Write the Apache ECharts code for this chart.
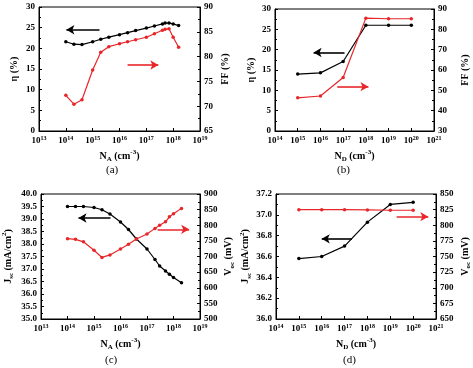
<!DOCTYPE html>
<html>
<head>
<meta charset="utf-8">
<script src="https://cdn.jsdelivr.net/npm/echarts@6/dist/echarts.min.js"></script>
<style>html,body{margin:0;padding:0;background:#fff}#main{width:473px;height:368px}</style>
</head>
<body>
<div id="main"></div>
<script>
// (a) acceptor doping
var naX  = [1e14,2e14,4e14,1e15,2e15,4e15,1e16,2e16,4e16,1e17,2e17,4e17,5e17,7e17,1e18,1.6e18];
var etaA = [21.6,21.0,20.9,21.6,22.2,22.7,23.3,23.8,24.3,24.9,25.4,25.9,26.1,26.1,25.9,25.5];
var ffA  = [72.2,70.4,71.3,77.3,80.9,82.0,82.6,83.0,83.4,83.9,84.6,85.3,85.5,85.6,83.9,81.9];
// (b) donor doping
var ndX  = [1e15,1e16,1e17,1e18,1e19,1e20];
var etaB = [14.0,14.3,17.1,26.0,26.0,26.0];
var ffB  = [46.3,47.2,56.3,85.5,85.2,85.2];
// (c) acceptor doping
var ncX  = [1e14,2e14,4e14,1e15,2e15,4e15,1e16,2e16,4e16,1e17,2e17,3e17,5e17,7e17,1e18,2e18];
var jscC = [39.5,39.5,39.5,39.46,39.37,39.2,38.88,38.58,38.2,37.8,37.38,37.12,36.92,36.79,36.66,36.45];
var vocC = [757,755,747,720,697,705,724,739,756,772,790,800,811,827,837,854];
// (d) donor doping
var jscD = [36.58,36.60,36.70,36.93,37.10,37.12];
var vocD = [825,825,825,824.5,824,824];

var FONT = 'Liberation Serif';
var RED = '#e8262a';

function pairs(xs, ys) {
  return xs.map(function (x, i) { return [x, ys[i]]; });
}

var nameRich = {
  s: {fontFamily: FONT, fontSize: 7, fontWeight: 'bold', verticalAlign: 'bottom'},
  p: {fontFamily: FONT, fontSize: 7, fontWeight: 'bold', verticalAlign: 'top'}
};

function xAxisFor(i, min, max, name) {
  return {
    type: 'log', logBase: 10, gridIndex: i, min: min, max: max, interval: 1,
    name: name, nameLocation: 'middle', nameGap: 18,
    nameTextStyle: {fontFamily: FONT, fontSize: 10, fontWeight: 'bold', color: '#000', lineHeight: 14, rich: nameRich},
    axisLine: {lineStyle: {color: '#000', width: 1}},
    axisTick: {inside: true, length: 3, lineStyle: {color: '#000'}},
    splitLine: {show: false},
    axisLabel: {
      fontFamily: FONT, fontSize: 9, fontWeight: 'bold', color: '#000', margin: 4, lineHeight: 12,
      formatter: function (v) { return '10{p|' + Math.round(Math.log10(v)) + '}'; },
      rich: {p: {fontFamily: FONT, fontSize: 6, fontWeight: 'bold', verticalAlign: 'top'}}
    }
  };
}

function yAxisFor(i, pos, min, max, step, name, gap, digits) {
  return {
    type: 'value', gridIndex: i, position: pos, min: min, max: max, interval: step,
    name: name, nameLocation: 'middle', nameGap: gap, nameRotate: 90,
    nameTextStyle: {fontFamily: FONT, fontSize: 10, fontWeight: 'bold', color: '#000', lineHeight: 14, rich: nameRich},
    axisLine: {show: true, lineStyle: {color: '#000', width: 1}},
    axisTick: {inside: true, length: 3, lineStyle: {color: '#000'}},
    minorTick: {show: true, splitNumber: 2, length: 2, lineStyle: {color: '#000'}},
    splitLine: {show: false},
    axisLabel: {
      fontFamily: FONT, fontSize: 9, fontWeight: 'bold', color: '#000', margin: 4,
      formatter: function (v) { return v.toFixed(digits); }
    }
  };
}

function arrow(color, from, to) {
  return {
    silent: true, symbol: ['none', 'arrow'], symbolSize: [7, 8],
    lineStyle: {color: color, width: 1.6, type: 'solid'},
    label: {show: false}, emphasis: {disabled: true},
    data: [[{coord: from}, {coord: to}]]
  };
}

function line(name, i, yIdx, data, color, mark) {
  return {
    name: name, type: 'line', xAxisIndex: i, yAxisIndex: yIdx, data: data,
    symbol: 'circle', symbolSize: 3.5, showSymbol: true,
    lineStyle: {color: color, width: 1.2},
    itemStyle: {color: color},
    markLine: mark, animation: false
  };
}

var frame = {show: true, borderColor: '#000', borderWidth: 1, backgroundColor: 'transparent'};

var option = {
  backgroundColor: '#fff',
  grid: [
    Object.assign({left: 39, top: 7, width: 161, height: 124}, frame),
    Object.assign({left: 275, top: 9, width: 160, height: 122}, frame),
    Object.assign({left: 39, top: 194, width: 161, height: 125}, frame),
    Object.assign({left: 276, top: 194, width: 161, height: 125}, frame)
  ],
  xAxis: [
    xAxisFor(0, 1e13, 1e19, 'N{s|A} (cm{p|-3})'),
    xAxisFor(1, 1e14, 1e21, 'N{s|D} (cm{p|-3})'),
    xAxisFor(2, 1e13, 1e19, 'N{s|A} (cm{p|-3})'),
    xAxisFor(3, 1e14, 1e21, 'N{s|D} (cm{p|-3})')
  ],
  yAxis: [
    yAxisFor(0, 'left', 0, 30, 5, 'η (%)', 18, 0),
    yAxisFor(0, 'right', 65, 90, 5, 'FF (%)', 18, 0),
    yAxisFor(1, 'left', 0, 30, 5, 'η (%)', 16, 0),
    yAxisFor(1, 'right', 30, 90, 10, 'FF (%)', 24, 0),
    yAxisFor(2, 'left', 35, 40, 0.5, 'J{s|sc} (mA/cm{p|2})', 26, 1),
    yAxisFor(2, 'right', 500, 900, 50, 'V{s|oc} (mV)', 21, 0),
    yAxisFor(3, 'left', 36, 37.2, 0.2, 'J{s|sc} (mA/cm{p|2})', 21, 1),
    yAxisFor(3, 'right', 650, 850, 25, 'V{s|oc} (mV)', 22, 0)
  ],
  graphic: [
    {type: 'text', left: 106, top: 165, style: {text: '(a)', font: '11px "Liberation Serif"', fill: '#000'}},
    {type: 'text', left: 337, top: 165, style: {text: '(b)', font: '11px "Liberation Serif"', fill: '#000'}},
    {type: 'text', left: 105, top: 355, style: {text: '(c)', font: '11px "Liberation Serif"', fill: '#000'}},
    {type: 'text', left: 343, top: 355, style: {text: '(d)', font: '11px "Liberation Serif"', fill: '#000'}}
  ],
  series: [
    line('eta a', 0, 0, pairs(naX, etaA), '#000', arrow('#000', [1.8e15, 24.5], [1.05e14, 24.5])),
    line('FF a', 0, 1, pairs(naX, ffA), RED, arrow(RED, [2e16, 78.3], [2.8e17, 78.3])),
    line('eta b', 1, 2, pairs(ndX, etaB), '#000', arrow('#000', [1.15e17, 19.3], [5e15, 19.3])),
    line('FF b', 1, 3, pairs(ndX, ffB), RED, arrow(RED, [5.5e16, 51.8], [1.3e18, 51.8])),
    line('Jsc c', 2, 4, pairs(ncX, jscC), '#000', arrow('#000', [4.2e15, 39.04], [2.6e14, 39.04])),
    line('Voc c', 2, 5, pairs(ncX, vocC), RED, arrow(RED, [2.5e17, 787], [3.9e18, 787])),
    line('Jsc d', 3, 6, pairs(ndX, jscD), '#000', arrow('#000', [2.1e17, 36.77], [1e16, 36.77])),
    line('Voc d', 3, 7, pairs(ndX, vocD), RED, arrow(RED, [1.9e19, 813.8], [4.6e20, 813.8]))
  ]
};

var chart = echarts.init(document.getElementById('main'), null, {renderer: 'canvas'});
chart.setOption(option);
</script>
</body>
</html>
